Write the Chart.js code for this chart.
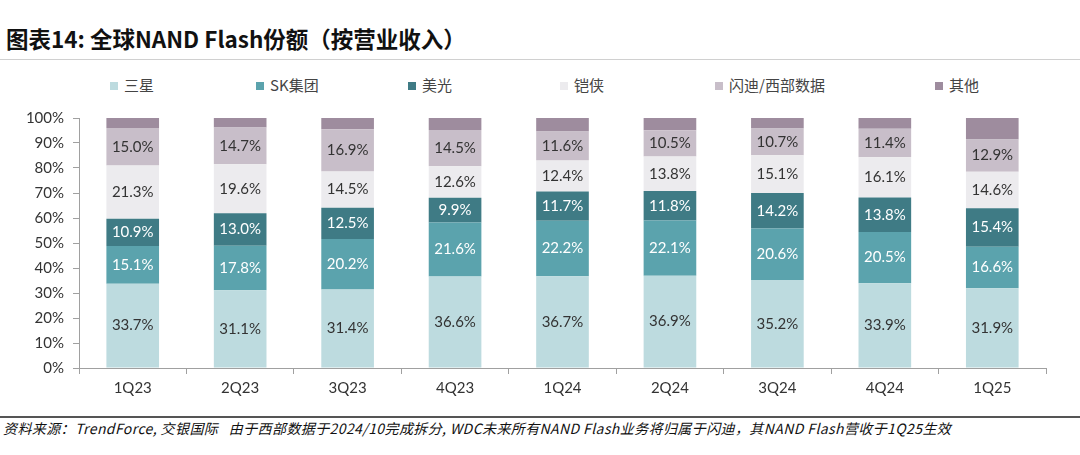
<!DOCTYPE html>
<html>
<head>
<meta charset="utf-8">
<script src="https://cdn.jsdelivr.net/npm/chart.js@4"></script>
<style>
  body { margin: 0; width: 1080px; height: 455px; background: #fff; position: relative; overflow: hidden;
         font-family: "Noto Sans CJK SC", sans-serif; }
  #title { position: absolute; left: 6px; top: 22px; font-size: 22.5px; font-weight: bold; color: #111; white-space: nowrap; line-height: 33px; }
  #titleLine { position: absolute; left: 0; top: 59px; width: 1080px; height: 1px; background: #d0d0d0; }
  #legend { position: absolute; left: 0; top: 74px; width: 1080px; height: 22px; }
  .item { position: absolute; top: 0; font-size: 15px; color: #444; white-space: nowrap; line-height: 22px; }
  .item i { display: inline-block; width: 8px; height: 8px; margin-right: 6px; vertical-align: 1px; }
  #wrap { position: absolute; left: 0; top: 100px; width: 1080px; height: 305px; }
  #footLine { position: absolute; left: 0; top: 416px; width: 1080px; height: 2px; background: #555; }
  #foot { position: absolute; left: 3px; top: 418px; font-size: 14px; letter-spacing: 0.4px; font-style: italic; color: #111; white-space: nowrap; }
</style>
</head>
<body>
<div id="title">图表14: 全球NAND Flash份额（按营业收入）</div>
<div id="titleLine"></div>
<div id="legend"></div>
<div id="wrap"><canvas id="nandChart"></canvas></div>
<div id="footLine"></div>
<div id="foot">资料来源：TrendForce, 交银国际&nbsp;&nbsp;&nbsp;由于西部数据于2024/10完成拆分, WDC未来所有NAND Flash业务将归属于闪迪，其NAND Flash营收于1Q25生效</div>

<script>
// quarters on the x axis
const quarters = ['1Q23', '2Q23', '3Q23', '4Q23', '1Q24', '2Q24', '3Q24', '4Q24', '1Q25'];

// market share (%) by vendor
const samsung  = [33.7, 31.1, 31.4, 36.6, 36.7, 36.9, 35.2, 33.9, 31.9];
const skGroup  = [15.1, 17.8, 20.2, 21.6, 22.2, 22.1, 20.6, 20.5, 16.6];
const micron   = [10.9, 13.0, 12.5, 9.9, 11.7, 11.8, 14.2, 13.8, 15.4];
const kioxia   = [21.3, 19.6, 14.5, 12.6, 12.4, 13.8, 15.1, 16.1, 14.6];
const sandisk  = [15.0, 14.7, 16.9, 14.5, 11.6, 10.5, 10.7, 11.4, 12.9];
const others   = [4.0, 3.8, 4.5, 4.8, 5.4, 4.9, 4.2, 4.3, 8.6];

const yTicks = [0, 10, 20, 30, 40, 50, 60, 70, 80, 90, 100];

const seriesNames = ['三星', 'SK集团', '美光', '铠侠', '闪迪/西部数据', '其他'];
const seriesData = [samsung, skGroup, micron, kioxia, sandisk, others];
const seriesColors = ['#bddbdf', '#5ba3ad', '#3f7b85', '#ecebee', '#c8bec9', '#9e8c9e'];
const labelColors = ['#333', '#fff', '#fff', '#333', '#333', null]; // null = no label

// legend slots (left edge of each marker)
const legendLeft = [110, 256, 408, 560, 715, 935];
const legendBox = document.getElementById('legend');
seriesNames.forEach((name, i) => {
    const el = document.createElement('div');
    el.className = 'item';
    el.style.left = legendLeft[i] + 'px';
    el.innerHTML = '<i style="background:' + seriesColors[i] + '"></i>' + name;
    legendBox.appendChild(el);
});

// draw value labels in the middle of each segment
const segmentLabels = {
    id: 'segmentLabels',
    afterDatasetsDraw(chart) {
        const ctx = chart.ctx;
        ctx.save();
        ctx.font = '15px Lato, "Liberation Sans", sans-serif';
        ctx.textAlign = 'center';
        ctx.textBaseline = 'middle';
        chart.data.datasets.forEach((ds, di) => {
            if (!labelColors[di]) return;
            ctx.fillStyle = labelColors[di];
            chart.getDatasetMeta(di).data.forEach((bar, i) => {
                const y = (bar.y + bar.base) / 2;
                ctx.fillText(ds.data[i].toFixed(1) + '%', bar.x, y);
            });
        });
        ctx.restore();
    }
};

const ctx = document.getElementById('nandChart').getContext('2d');
new Chart(ctx, {
    type: 'bar',
    data: {
        labels: quarters,
        datasets: seriesNames.map((name, i) => ({
            label: name,
            data: seriesData[i],
            backgroundColor: seriesColors[i],
            borderWidth: 0,
            barPercentage: 0.49,
            categoryPercentage: 1.0
        }))
    },
    options: {
        responsive: true,
        maintainAspectRatio: false,
        animation: false,
        layout: { padding: { top: 13, right: 34, left: 0, bottom: 0 } },
        plugins: {
            legend: { display: false },
            tooltip: { enabled: false }
        },
        scales: {
            x: {
                stacked: true,
                afterFit: s => { s.height = 37; },
                grid: { offset: true, drawOnChartArea: false, drawTicks: true, tickLength: 6, color: '#a0a0a0' },
                border: { color: '#a0a0a0' },
                ticks: { color: '#333', padding: 5, font: { family: 'Lato', size: 15 } }
            },
            y: {
                stacked: true,
                min: 0,
                max: 100,
                afterFit: s => { s.width = 79; },
                afterBuildTicks: s => { s.ticks = yTicks.map(v => ({ value: v })); },
                grid: { drawOnChartArea: false, drawTicks: true, tickLength: 6, color: '#a0a0a0' },
                border: { color: '#a0a0a0' },
                ticks: { color: '#333', padding: 9, font: { family: 'Lato', size: 15 }, callback: v => v + '%' }
            }
        }
    },
    plugins: [segmentLabels]
});
</script>
</body>
</html>
